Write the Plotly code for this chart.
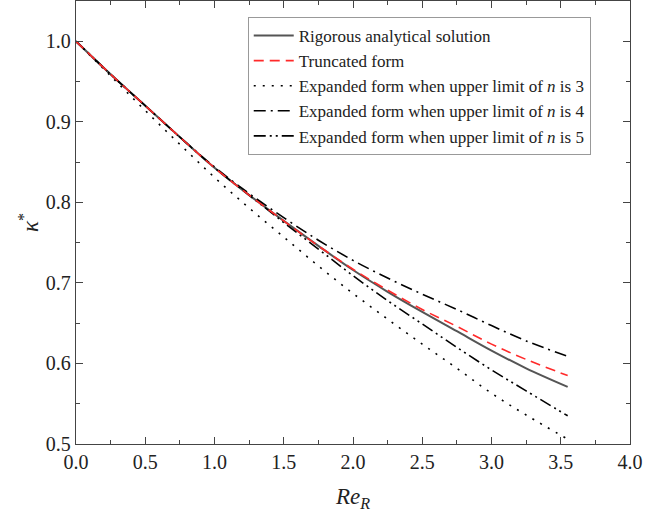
import plotly.graph_objects as go

# Re_R values
re_r = [0.0, 0.25, 0.5, 0.75, 1.0, 1.25, 1.5, 1.75, 2.0, 2.25, 2.5, 2.75, 3.0, 3.25, 3.55]

kappa_rigorous = [1.000, 0.959, 0.920, 0.881, 0.843, 0.809, 0.777, 0.746,
                  0.716, 0.689, 0.664, 0.640, 0.616, 0.594, 0.571]
kappa_truncated = [1.000, 0.959, 0.920, 0.881, 0.843, 0.809, 0.777, 0.746,
                   0.717, 0.691, 0.667, 0.646, 0.624, 0.605, 0.585]
kappa_n3 = [1.000, 0.957, 0.914, 0.872, 0.831, 0.793, 0.757, 0.721,
            0.687, 0.655, 0.624, 0.594, 0.563, 0.536, 0.506]
kappa_n4 = [1.000, 0.959, 0.920, 0.881, 0.844, 0.811, 0.781, 0.753,
            0.728, 0.706, 0.686, 0.667, 0.647, 0.628, 0.609]
kappa_n5 = [1.000, 0.959, 0.920, 0.881, 0.843, 0.809, 0.775, 0.742,
            0.709, 0.678, 0.649, 0.620, 0.592, 0.566, 0.535]

nomes = ["Rigorous analytical solution",
         "Truncated form",
         "Expanded form when upper limit of <i>n</i> is 3",
         "Expanded form when upper limit of <i>n</i> is 4",
         "Expanded form when upper limit of <i>n</i> is 5"]

fonte = "Liberation Serif"
fonte_ticks = dict(family=fonte, size=20, color="#222222")

fig = go.Figure()

fig.add_trace(go.Scatter(x=re_r, y=kappa_rigorous, mode="lines", name=nomes[0],
                         line=dict(color="#555555", width=2, shape="spline")))
fig.add_trace(go.Scatter(x=re_r, y=kappa_n3, mode="lines", name=nomes[2],
                         line=dict(color="black", width=1.6, dash="2px,7px", shape="spline")))
fig.add_trace(go.Scatter(x=re_r, y=kappa_n4, mode="lines", name=nomes[3],
                         line=dict(color="black", width=1.6, dash="12px,5px,2px,5px", shape="spline")))
fig.add_trace(go.Scatter(x=re_r, y=kappa_n5, mode="lines", name=nomes[4],
                         line=dict(color="black", width=1.6, dash="12px,4px,2px,4px,2px,4px", shape="spline")))
fig.add_trace(go.Scatter(x=re_r, y=kappa_truncated, mode="lines", name=nomes[1],
                         line=dict(color="#ff2a2a", width=1.6, dash="10px,6px", shape="spline")))

fig.update_xaxes(showline=True, linecolor="#444444", linewidth=1.3, mirror="allticks",
                 ticks="inside", ticklen=7, tickcolor="#444444", tickwidth=1.3,
                 showgrid=False, zeroline=False, tickformat=".1f", tickfont=fonte_ticks,
                 range=[0, 4], dtick=0.5, automargin=False,
                 minor=dict(ticks="inside", ticklen=4, dtick=0.25, tickcolor="#444444"),
                 title=dict(text="<i>Re</i><sub><i>R</i></sub>",
                            font=dict(family=fonte, size=23, color="#222222")))
fig.update_yaxes(showline=True, linecolor="#444444", linewidth=1.3, mirror="allticks",
                 ticks="inside", ticklen=7, tickcolor="#444444", tickwidth=1.3,
                 showgrid=False, zeroline=False, tickformat=".1f", tickfont=fonte_ticks,
                 range=[0.5, 1.05], dtick=0.1, automargin=True,
                 minor=dict(ticks="inside", ticklen=4, dtick=0.05, tickcolor="#444444"),
                 title=dict(text="<i>κ</i><sup>*</sup>", standoff=0,
                            font=dict(family=fonte, size=23, color="#222222")))

fig.update_layout(
    width=645, height=527,
    margin=dict(l=76, r=15, t=1, b=83),
    plot_bgcolor="white", paper_bgcolor="white",
    font=dict(family=fonte),
    legend=dict(x=0.31, y=0.964, xanchor="left", yanchor="top",
                bgcolor="white", bordercolor="#999999", borderwidth=1,
                font=dict(family=fonte, size=17, color="#222222"),
                itemwidth=40, traceorder="normal", tracegroupgap=0),
    showlegend=True,
)

# ordem da legenda igual ao original
ordem = {nomes[0]: 1, nomes[1]: 2, nomes[2]: 3, nomes[3]: 4, nomes[4]: 5}
for tr in fig.data:
    tr.legendrank = ordem[tr.name]

# tira a margem padrao do body para a figura ocupar a janela toda
fig.write_html("out.html", config={"displayModeBar": False},
               post_script="document.body.style.margin='0';")
